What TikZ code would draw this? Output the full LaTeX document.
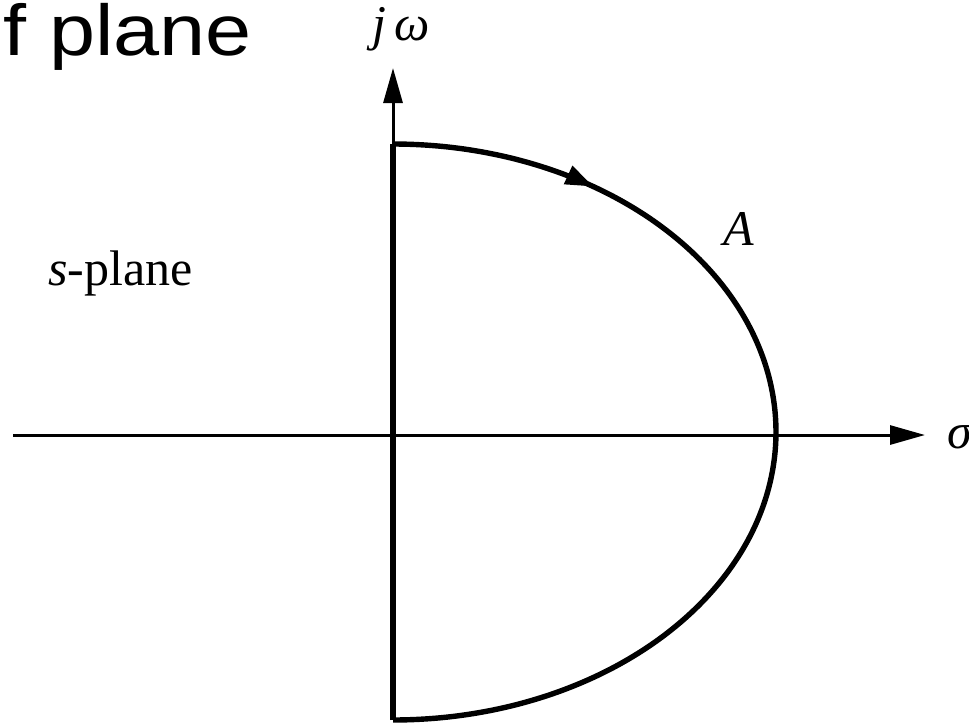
\documentclass[tikz,border=0pt]{standalone}
\usepackage{fontspec}
\setmainfont{Liberation Serif}
\newfontfamily\arialfont{Liberation Sans}
\usetikzlibrary{arrows.meta,decorations.markings}
\tikzset{
  thinax/.style={line width=3pt},
  thickc/.style={line width=5.4pt, line join=miter},
  lbl/.style={inner sep=0pt, anchor=base west, font=\fontsize{50}{60}\selectfont},
  bigtip/.style={-{Triangle[length=35pt,width=19pt]}},
  midarrow/.style={postaction={decorate}, decoration={markings,
     mark=at position #1 with {\arrow{Triangle[length=28pt,width=19pt]}}}},
}
\begin{document}
\begin{tikzpicture}[x=1pt,y=-1pt]
\useasboundingbox (0,0) rectangle (969,723);
\fill[white] (0,0) rectangle (969,723);
% coordinates
\coordinate (O) at (393,435);
\coordinate (Ytip) at (393,68);
\coordinate (Xstart) at (13,435);
\coordinate (Xtip) at (925,435);
\coordinate (Top) at (393,144);
\coordinate (Bot) at (393,720);
% axes
\draw[thinax, bigtip] (Xstart) -- (Xtip);
\draw[thinax, bigtip] (O) -- (Ytip);
% contour
\draw[thickc] (Bot) -- (Top);
\draw[thickc, midarrow=0.195] plot[domain=90:-90, samples=160, smooth] ({393+383*cos(\x)},{432-288*sin(\x)});
% labels
\node[inner sep=0pt, anchor=base west, xscale=1.15, font=\arialfont\fontsize{72}{86}\selectfont] (title) at (3,55) {f plane};
\node[lbl] (jw) at (372,40) {\itshape j\,ω};
\node[lbl] (sp) at (48,285) {\itshape s\upshape -plane};
\node[lbl] (A) at (723,245) {\itshape A};
\node[lbl] (sig) at (947,448) {\itshape σ};
\end{tikzpicture}
\end{document}
